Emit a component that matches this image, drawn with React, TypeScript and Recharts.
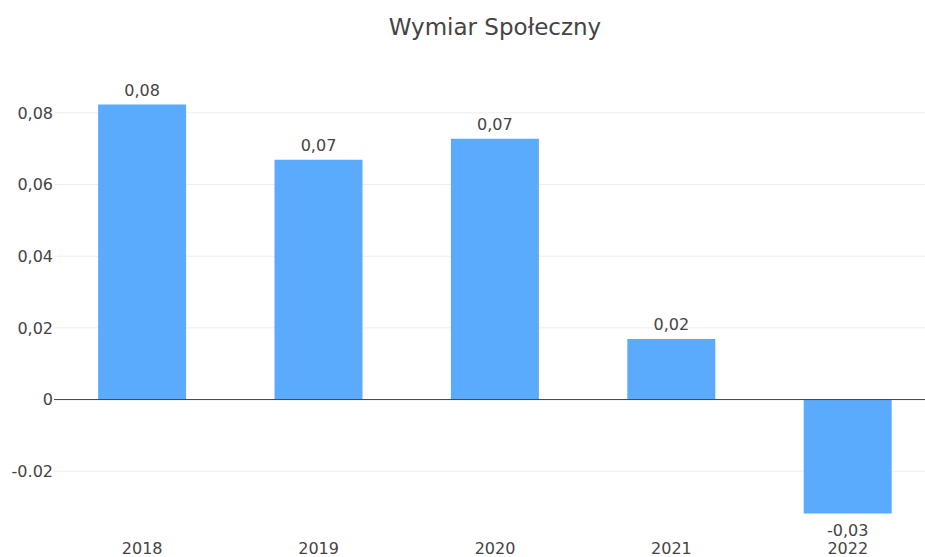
import React from "react";
import { BarChart, Bar, XAxis, YAxis, CartesianGrid, ReferenceLine, LabelList } from "recharts";

const categories = ["2018", "2019", "2020", "2021", "2022"];
const values = [0.0823, 0.0669, 0.0728, 0.0169, -0.0318];
const dataLabels = ["0,08", "0,07", "0,07", "0,02", "-0,03"];
const yTicks = [-0.02, 0, 0.02, 0.04, 0.06, 0.08];
const yTickLabels = ["-0.02", "0", "0,02", "0,04", "0,06", "0,08"];
const title = "Wymiar Społeczny";

const data = categories.map((c, i) => ({ year: c, value: values[i], label: dataLabels[i] }));

const FONT = "'DejaVu Sans', Verdana, sans-serif";
const TEXT = "#444";

const XTick = (props: any) => {
  const { x, y, payload } = props;
  return (
    <text x={x} y={y + 21} textAnchor="middle" fill={TEXT} fontSize={16} fontFamily={FONT}>
      {payload.value}
    </text>
  );
};

const BarLabel = (props: any) => {
  const { x, y, width, height, index } = props;
  const top = Math.min(y, y + height);
  const bottom = Math.max(y, y + height);
  const v = values[index];
  const cx = x + width / 2;
  return (
    <text
      x={cx}
      y={v >= 0 ? top - 9 : bottom + 22}
      textAnchor="middle"
      fill={TEXT}
      fontSize={16}
      fontFamily={FONT}
    >
      {dataLabels[index]}
    </text>
  );
};

export default function App() {
  return (
    <div style={{ position: "absolute", left: 0, top: 0, width: 925, height: 557, overflow: "hidden", background: "#fff" }}>
      <BarChart
        width={940}
        height={557}
        data={data}
        margin={{ top: 77, right: 4, bottom: 0, left: 0 }}
        barCategoryGap="25%"
      >
        <CartesianGrid vertical={false} stroke="#eeeeee" horizontalValues={yTicks} />
        <XAxis
          dataKey="year"
          height={32}
          axisLine={false}
          tickLine={false}
          tick={<XTick />}
          interval={0}
        />
        <YAxis
          width={54}
          domain={[-0.035, 0.09]}
          ticks={yTicks}
          allowDataOverflow
          axisLine={false}
          tickLine={false}
          tickSize={0}
          tickMargin={1}
          tickFormatter={(v: number) => yTickLabels[yTicks.indexOf(v)] ?? String(v)}
          tick={{ fill: TEXT, fontSize: 16, fontFamily: FONT }}
        />
        <Bar dataKey="value" fill="#5aabfd" isAnimationActive={false}>
          <LabelList dataKey="label" content={<BarLabel />} />
        </Bar>
        <ReferenceLine y={0} stroke="#444" strokeWidth={1} />
      </BarChart>
      <svg width={925} height={557} style={{ position: "absolute", left: 0, top: 0, pointerEvents: "none" }}>
        <text x={495} y={35} textAnchor="middle" fill={TEXT} fontSize={23} fontFamily={FONT}>
          {title}
        </text>
      </svg>
    </div>
  );
}
